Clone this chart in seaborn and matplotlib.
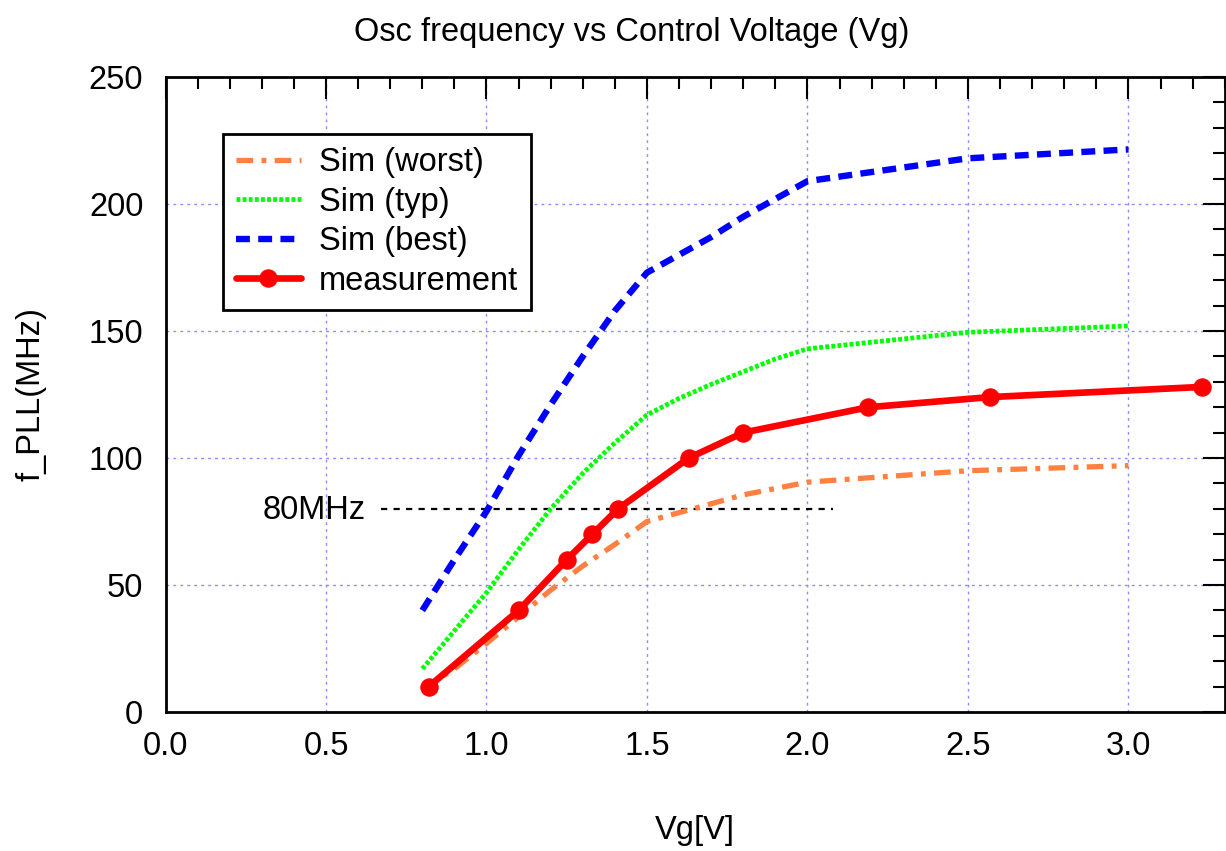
import matplotlib
matplotlib.use("Agg")
import matplotlib.pyplot as plt
import seaborn as sns
import pandas as pd
from matplotlib.ticker import MultipleLocator

# ---- data ----
vg_sim = [0.8, 0.9, 1.0, 1.1, 1.2, 1.3, 1.4, 1.5, 1.6, 1.7, 1.8, 1.9, 2.0, 2.5, 3.0]
sim_worst = [9, 17, 27, 37.5, 48, 57.5, 66, 75, 78.5, 82, 85.5, 88, 90.5, 95, 97]
sim_typ = [17, 32, 47, 64, 80, 94, 106, 117, 123.5, 129, 134, 139, 143, 149.5, 152]
sim_best = [40, 60, 79, 101, 121, 140, 158, 173, 180, 187, 195, 202, 209, 218, 221.5]
vg_meas = [0.82, 1.10, 1.25, 1.33, 1.41, 1.63, 1.80, 2.19, 2.57, 3.23]
meas = [10, 40, 60, 70, 80, 100, 110, 120, 124, 128]
ref_x = [0.67, 2.08]
ref_y = [80, 80]
ref_label = "80MHz"

title = "Osc frequency vs Control Voltage (Vg)"
xlabel = "Vg[V]"
ylabel = "f_PLL(MHz)"

sns.set_style("white")
plt.rcParams["font.family"] = ["Liberation Sans", "DejaVu Sans"]
plt.rcParams["lines.scale_dashes"] = False
for k in ["text.color", "axes.labelcolor", "xtick.color", "ytick.color", "axes.edgecolor"]:
    plt.rcParams[k] = "black"
FS = 23.5

fig = plt.figure(figsize=(12.26, 8.51), dpi=100)
ax = fig.add_axes([0.135, 0.1633, 0.864, 0.7462])

df_sim = pd.DataFrame({"vg": vg_sim, "worst": sim_worst, "typ": sim_typ, "best": sim_best})
df_meas = pd.DataFrame({"vg": vg_meas, "f": meas})

# reference line
sns.lineplot(x=ref_x, y=ref_y, ax=ax, color="black", lw=1.6, dashes=False,
             linestyle=(0, (4.5, 4.5)), zorder=2, label="_ref")

sns.lineplot(data=df_sim, x="vg", y="worst", ax=ax, color="#ff8040", lw=3.8,
             linestyle=(0, (12, 6, 3.5, 6)), zorder=3, label="Sim (worst)", sort=False)
sns.lineplot(data=df_sim, x="vg", y="typ", ax=ax, color="#00ff00", lw=3.4,
             linestyle=(0, (2.8, 1.6)), zorder=3, label="Sim (typ)", sort=False)
sns.lineplot(data=df_sim, x="vg", y="best", ax=ax, color="#0000ff", lw=4.6,
             linestyle=(0, (10, 6)), zorder=3, label="Sim (best)", sort=False)
sns.lineplot(data=df_meas, x="vg", y="f", ax=ax, color="#ff0000", lw=4.8,
             marker="o", markersize=12.5, markeredgecolor="#ff0000",
             markerfacecolor="#ff0000", zorder=4, label="measurement", sort=False)

ax.text(0.625, 79.5, ref_label, ha="right", va="center", fontsize=FS, color="black")

ax.set_xlim(0, 3.3)
ax.set_ylim(0, 250)
ax.xaxis.set_major_locator(MultipleLocator(0.5))
ax.xaxis.set_minor_locator(MultipleLocator(0.1))
ax.yaxis.set_major_locator(MultipleLocator(50))
ax.yaxis.set_minor_locator(MultipleLocator(10))
ax.set_xticks([0, 0.5, 1.0, 1.5, 2.0, 2.5, 3.0])
ax.set_xticklabels(["0.0", "0.5", "1.0", "1.5", "2.0", "2.5", "3.0"])

ax.tick_params(which="both", direction="in", top=True, right=True,
               labelsize=FS, width=1.5, color="black", labelcolor="black")
ax.tick_params(which="major", length=16, pad=14)
ax.tick_params(which="minor", length=8.5)
ax.tick_params(axis="y", which="major", pad=16)

for s in ax.spines.values():
    s.set_linewidth(2)
    s.set_color("black")

ax.grid(True, which="major", color="#8c8cff", linestyle=(0, (2, 3)), lw=1)
ax.set_axisbelow(True)

fig.text(632 / 1226, 1 - 32 / 851, title, fontsize=FS, ha="center", va="center",
         color="black")
ax.set_xlabel(xlabel, fontsize=FS, labelpad=38, color="black")
ax.set_ylabel(ylabel, fontsize=FS, labelpad=30, color="black")

leg = ax.legend(loc="upper left", bbox_to_anchor=(0.054, 0.91), borderaxespad=0,
                fontsize=FS, frameon=True, fancybox=False, handlelength=2.0,
                labelspacing=0.26, handletextpad=0.55, borderpad=0.4,
                labelcolor="black")
leg.get_frame().set_edgecolor("black")
leg.get_frame().set_linewidth(2)
leg.get_frame().set_alpha(1)

fig.savefig("out.png", dpi=100)
